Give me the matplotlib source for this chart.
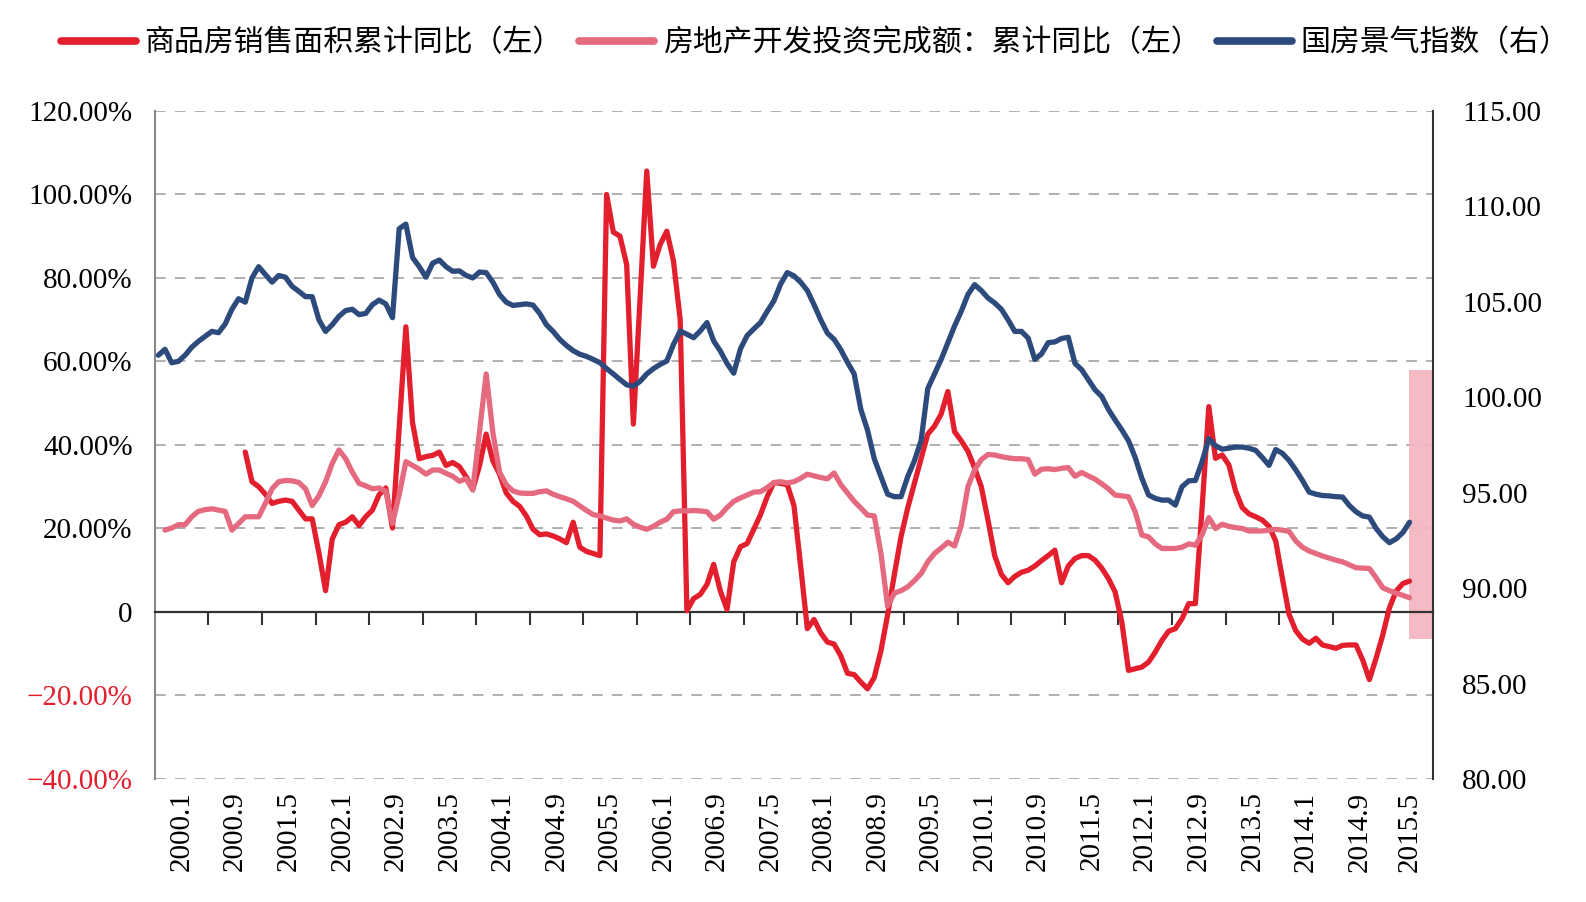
import matplotlib.pyplot as plt
from matplotlib.patches import Rectangle
import numpy as np

plt.rcParams['font.family'] = ['Liberation Serif', 'Noto Sans CJK SC']

nan = np.nan

# monthly data, 2000.1 onwards (191 month slots on the category axis: 2000.1 - 2015.11)
n_slots = 191
tick_labels = ['2000.1', '2000.9', '2001.5', '2002.1', '2002.9', '2003.5', '2004.1', '2004.9',
               '2005.5', '2006.1', '2006.9', '2007.5', '2008.1', '2008.9', '2009.5', '2010.1',
               '2010.9', '2011.5', '2012.1', '2012.9', '2013.5', '2014.1', '2014.9', '2015.5']

# 商品房销售面积累计同比 (%)
sales_area = [
    nan, nan, nan, nan, nan, nan, nan, nan, nan, nan, nan, nan,                  # 2000
    nan, 38.3, 31.2, 30.0, 28.2, 26.0, 26.5, 26.8, 26.5, 24.4, 22.3, 22.3,       # 2001
    14.2, 5.1, 17.5, 20.9, 21.5, 22.8, 20.7, 22.8, 24.4, 28.1, 29.7, 20.1,       # 2002
    44.0, 68.3, 45.3, 36.7, 37.2, 37.5, 38.3, 35.1, 35.8, 34.8, 32.4, 29.4,      # 2003
    35.0, 42.6, 36.2, 33.0, 28.5, 26.5, 25.3, 23.0, 19.8, 18.5, 18.7, 18.2,      # 2004
    17.5, 16.6, 21.5, 15.5, 14.5, 14.0, 13.5, 100.0, 91.0, 90.0, 83.2, 45.0,     # 2005
    75.0, 105.6, 82.8, 88.0, 91.2, 84.0, 70.0, 0.3, 3.2, 4.2, 6.6, 11.4,         # 2006
    5.0, 0.6, 12.0, 15.6, 16.4, 19.8, 23.3, 27.6, 31.0, 30.8, 30.5, 25.5,        # 2007
    11.0, -4.0, -1.8, -5.0, -7.2, -7.7, -10.5, -14.7, -15.0, -16.8, -18.4, -15.7,  # 2008
    -9.3, -0.7, 8.9, 18.0, 24.9, 30.8, 36.7, 42.6, 44.5, 47.4, 52.8, 43.2,       # 2009
    41.0, 38.5, 34.5, 30.0, 22.0, 13.5, 9.0, 7.0, 8.5, 9.5, 10.0, 11.0,          # 2010
    12.3, 13.5, 14.8, 7.0, 11.0, 12.8, 13.5, 13.5, 12.4, 10.5, 8.0, 4.8,         # 2011
    -2.4, -14.0, -13.6, -13.2, -12.0, -9.6, -6.8, -4.6, -4.0, -1.6, 2.0, 2.0,    # 2012
    25.0, 49.2, 36.8, 37.6, 35.2, 29.0, 25.0, 23.5, 22.8, 22.0, 20.5, 17.0,      # 2013
    8.0, -0.6, -4.5, -6.5, -7.5, -6.3, -7.9, -8.3, -8.7, -8.0, -7.9, -7.9,       # 2014
    -11.5, -16.2, -11.1, -5.5, 1.0, 5.0, 6.8, 7.4,                               # 2015
]

# 房地产开发投资完成额:累计同比 (%)
invest = [
    nan, 19.6, 20.1, 20.9, 20.9, 22.8, 24.1, 24.5, 24.7, 24.4, 24.1, 19.6,       # 2000
    21.2, 22.8, 22.8, 22.8, 26.0, 29.5, 31.2, 31.5, 31.4, 31.0, 29.5, 25.5,      # 2001
    27.8, 31.2, 35.6, 38.8, 36.7, 33.5, 30.8, 30.2, 29.5, 29.7, 28.9, 21.2,      # 2002
    28.1, 36.0, 35.1, 34.2, 33.0, 34.0, 34.0, 33.2, 32.5, 31.3, 31.9, 29.2,      # 2003
    43.0, 57.0, 43.0, 33.5, 30.5, 29.0, 28.5, 28.4, 28.4, 28.8, 29.0, 28.2,      # 2004
    27.6, 27.1, 26.5, 25.4, 24.3, 23.3, 23.0, 22.5, 22.0, 21.8, 22.3, 21.0,      # 2005
    20.3, 19.8, 20.5, 21.5, 22.2, 24.0, 24.2, 24.2, 24.3, 24.2, 24.0, 22.2,      # 2006
    23.2, 25.0, 26.5, 27.3, 28.0, 28.7, 28.8, 29.8, 31.0, 31.2, 30.9, 31.2,      # 2007
    32.0, 33.0, 32.6, 32.2, 31.9, 33.3, 30.5, 28.5, 26.5, 24.9, 23.2, 23.0,      # 2008
    14.0, 1.4, 4.5, 5.1, 6.0, 7.5, 9.2, 12.0, 14.0, 15.3, 16.7, 15.8,            # 2009
    20.7, 30.0, 34.0, 36.5, 37.7, 37.6, 37.2, 36.9, 36.7, 36.7, 36.5, 33.0,      # 2010
    34.2, 34.3, 34.1, 34.4, 34.6, 32.5, 33.4, 32.6, 31.8, 30.7, 29.5, 28.0,      # 2011
    27.8, 27.6, 24.0, 18.4, 18.0, 16.3, 15.2, 15.2, 15.2, 15.5, 16.3, 16.0,      # 2012
    18.5, 22.6, 20.0, 21.0, 20.5, 20.2, 20.0, 19.4, 19.4, 19.4, 19.6, 19.8,      # 2013
    19.6, 19.3, 17.0, 15.5, 14.6, 14.0, 13.4, 12.9, 12.4, 12.0, 11.3, 10.6,      # 2014
    10.5, 10.4, 8.2, 5.8, 5.1, 4.5, 4.0, 3.4,                                    # 2015
]

# 国房景气指数
boom_index = [
    102.20, 102.51, 101.81, 101.88, 102.20, 102.62, 102.93, 103.19, 103.45, 103.38, 103.84, 104.61,  # 2000
    105.16, 104.98, 106.25, 106.84, 106.43, 106.03, 106.38, 106.29, 105.81, 105.55, 105.27, 105.27,  # 2001
    104.06, 103.45, 103.80, 104.24, 104.54, 104.61, 104.33, 104.39, 104.85, 105.09, 104.89, 104.17,  # 2002
    108.83, 109.07, 107.32, 106.84, 106.29, 107.02, 107.19, 106.84, 106.60, 106.62, 106.38, 106.25,  # 2003
    106.56, 106.53, 106.03, 105.38, 104.98, 104.81, 104.85, 104.89, 104.83, 104.39, 103.80, 103.45,  # 2004
    103.03, 102.71, 102.44, 102.25, 102.14, 101.98, 101.81, 101.50, 101.22, 100.93, 100.65, 100.58,  # 2005
    100.83, 101.22, 101.50, 101.72, 101.90, 102.77, 103.47, 103.30, 103.12, 103.47, 103.91, 102.95,  # 2006
    102.42, 101.77, 101.26, 102.53, 103.23, 103.58, 103.91, 104.50, 105.05, 105.92, 106.53, 106.36,  # 2007
    106.03, 105.59, 104.85, 104.06, 103.36, 103.03, 102.49, 101.83, 101.22, 99.36, 98.27, 96.78,     # 2008
    95.84, 94.92, 94.79, 94.79, 95.84, 96.67, 97.72, 100.45, 101.22, 101.98, 102.86, 103.73,         # 2009
    104.50, 105.38, 105.90, 105.59, 105.20, 104.94, 104.61, 104.06, 103.45, 103.45, 103.10, 101.98,  # 2010
    102.27, 102.86, 102.90, 103.08, 103.14, 101.77, 101.44, 100.91, 100.39, 100.04, 99.36, 98.81,    # 2011
    98.29, 97.72, 96.84, 95.75, 94.88, 94.70, 94.61, 94.61, 94.35, 95.31, 95.62, 95.64,              # 2012
    96.63, 97.83, 97.46, 97.28, 97.33, 97.39, 97.39, 97.33, 97.22, 96.84, 96.43, 97.26,              # 2013
    97.06, 96.69, 96.19, 95.64, 95.03, 94.92, 94.85, 94.83, 94.79, 94.77, 94.33, 94.00,              # 2014
    93.78, 93.72, 93.13, 92.69, 92.38, 92.58, 92.91, 93.45,                                          # 2015
]

labels = ['商品房销售面积累计同比（左）', '房地产开发投资完成额：累计同比（左）', '国房景气指数（右）']
c_red, c_pink, c_blue = '#E31E2D', '#E5697F', '#2C4A7C'

x = np.arange(len(boom_index))

fig = plt.figure(figsize=(15.86, 9.02), dpi=100)
ax = fig.add_axes([0.0977, 0.1364, 0.8058, 0.7406])
ax2 = ax.twinx()

line_kw = dict(lw=3.8, solid_joinstyle='round', solid_capstyle='round')
l1, = ax.plot(x, sales_area, color=c_red, zorder=3, **line_kw)
l2, = ax.plot(x, invest, color=c_pink, zorder=4, **line_kw)
l3, = ax2.plot(x, boom_index, color=c_blue, zorder=3, **line_kw)

# highlighted latest months
ax.add_patch(Rectangle((186.95, -6.5), n_slots - 0.5 - 186.95, 64.5,
                       facecolor='#F4B4BE', edgecolor='none', alpha=0.9, zorder=1.5))

# left axis
ax.set_xlim(-0.5, n_slots - 0.5)
ax.set_ylim(-40, 120)
yt = np.arange(-40, 121, 20)
ax.set_yticks(yt)
ax.set_yticklabels(['0' if v == 0 else f'{v:.2f}%'.replace('-', '−') for v in yt])
for lab, v in zip(ax.get_yticklabels(), yt):
    if v < 0:
        lab.set_color(c_red)
ax.tick_params(axis='y', length=0, pad=16, labelsize=21)
ax.yaxis.grid(True, linestyle=(0, (7, 6)), color='#9a9a9a', lw=1.1)
ax.set_axisbelow(True)

# category axis crossing at 0, ticks between 8-month groups
ax.spines['bottom'].set_position(('data', 0))
ax.spines['bottom'].set_color('#333333')
ax.spines['bottom'].set_linewidth(1.6)
ax.spines['bottom'].set_zorder(2.5)
ax.spines['left'].set_color('#888888')
ax.spines['left'].set_linewidth(1.5)
ax.spines['top'].set_visible(False)
ax.spines['right'].set_visible(False)
bounds = np.arange(7.5, n_slots - 1, 8)
ax.set_xticks(bounds)
ax.set_xticklabels([])
ax.tick_params(axis='x', direction='out', length=9, width=1.5, color='#333333')

centers = [min(8 * k + 7.5, n_slots - 0.5) / 2 + (8 * k - 0.5) / 2 for k in range(len(tick_labels))]
sec = ax.secondary_xaxis(0)
sec.set_xticks(centers, labels=tick_labels)
sec.tick_params(length=0, pad=9, labelsize=21, labelrotation=90)
sec.spines['bottom'].set_visible(False)

# right axis
ax2.set_ylim(80, 115)
rt = np.arange(80, 116, 5)
ax2.set_yticks(rt)
ax2.set_yticklabels([f'{v:.2f}' for v in rt])
ax2.tick_params(axis='y', length=0, pad=21, labelsize=21)
for s in ['top', 'left', 'bottom']:
    ax2.spines[s].set_visible(False)
ax2.spines['right'].set_color('#333333')
ax2.spines['right'].set_linewidth(1.5)

leg_handles = [plt.Line2D([], [], color=c, lw=5.5, solid_capstyle='round') for c in (c_red, c_pink, c_blue)]
fig.legend(leg_handles, labels, loc='center', bbox_to_anchor=(0.514, 0.952), ncol=3,
           frameon=False, fontsize=21.5, handlelength=2.5, handletextpad=0.3, columnspacing=0.55)

fig.savefig('out.png', dpi=100)
